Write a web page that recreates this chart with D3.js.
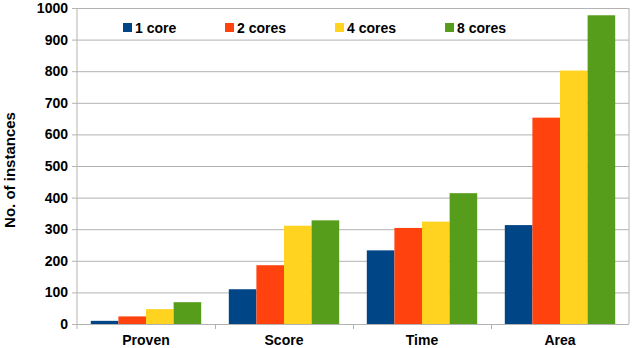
<!DOCTYPE html>
<html>
<head>
<meta charset="utf-8">
<script src="https://cdn.jsdelivr.net/npm/d3@7"></script>
<style>
  body { margin: 0; background: #fff; }
  text { font-family: "Liberation Sans", Arial, sans-serif; font-weight: bold; fill: #000; }
</style>
</head>
<body>
<div id="chart"></div>
<script>
// data
var categories = ["Proven", "Score", "Time", "Area"];
var seriesNames = ["1 core", "2 cores", "4 cores", "8 cores"];
var colors = ["#004586", "#ff420e", "#ffd320", "#579d1c"];
var core1 = [10, 110, 233, 313];
var core2 = [24, 186, 304, 653];
var core4 = [47, 311, 324, 802];
var core8 = [69, 328, 414, 977];
var yTicks = [0, 100, 200, 300, 400, 500, 600, 700, 800, 900, 1000];

var series = [core1, core2, core4, core8];

// SVG attributes
var W = 632, H = 348;
var margin = {left: 77, right: 3, top: 8, bottom: 24};
var width = W - margin.left - margin.right;
var height = H - margin.top - margin.bottom;

var svg = d3.select("#chart").append("svg")
  .attr("width", W)
  .attr("height", H);

var g = svg.append("g")
  .attr("transform", "translate(" + margin.left + "," + margin.top + ")");

var xScale = d3.scaleBand().domain(categories).range([0, width]).paddingInner(0).paddingOuter(0);
var xInner = d3.scaleBand().domain(d3.range(series.length))
  .range([xScale.bandwidth() * 0.1, xScale.bandwidth() * 0.9]);
var yScale = d3.scaleLinear().domain([0, 1000]).range([height, 0]);

// gridlines + left ticks
var yAxis = d3.axisLeft(yScale).tickValues(yTicks).tickFormat(d3.format("d")).tickSize(-width);
var ya = g.append("g").call(yAxis);
ya.select(".domain").remove();
ya.selectAll(".tick line").attr("stroke", "#b3b3b3").attr("x1", -5);
ya.selectAll(".tick text").style("font-size", "14px").attr("x", -9);

// left axis line and right frame
g.append("line").attr("x1", 0).attr("x2", 0).attr("y1", 0).attr("y2", height + 5)
  .attr("stroke", "#b3b3b3");
g.append("line").attr("x1", width).attr("x2", width).attr("y1", 0).attr("y2", height)
  .attr("stroke", "#b3b3b3");

// category separators below axis
g.selectAll(".sep")
  .data(categories.slice(1))
  .enter().append("line")
  .attr("x1", function(d) { return Math.round(xScale(d)) + 0.5; })
  .attr("x2", function(d) { return Math.round(xScale(d)) + 0.5; })
  .attr("y1", height)
  .attr("y2", height + 5)
  .attr("stroke", "#b3b3b3");

// bars
var groups = g.selectAll(".cat")
  .data(categories)
  .enter().append("g")
  .attr("transform", function(d) { return "translate(" + xScale(d) + ",0)"; });

groups.selectAll("rect")
  .data(function(d, i) { return series.map(function(s, j) { return {k: j, v: s[i]}; }); })
  .enter().append("rect")
  .attr("x", function(d) { return xInner(d.k); })
  .attr("width", xInner.bandwidth())
  .attr("y", function(d) { return yScale(d.v); })
  .attr("height", function(d) { return height - yScale(d.v); })
  .attr("fill", function(d) { return colors[d.k]; });

// category labels
g.selectAll(".catlabel")
  .data(categories)
  .enter().append("text")
  .attr("x", function(d) { return xScale(d) + xScale.bandwidth() / 2; })
  .attr("y", height + 21)
  .attr("text-anchor", "middle")
  .style("font-size", "14px")
  .text(function(d) { return d; });

// y title
svg.append("text")
  .attr("transform", "translate(15," + 170 + ") rotate(-90)")
  .attr("text-anchor", "middle")
  .style("font-size", "15px")
  .text("No. of instances");

// legend
var legendX = [123, 225, 335, 445];
var legend = svg.selectAll(".legend")
  .data(seriesNames)
  .enter().append("g")
  .attr("transform", function(d, i) { return "translate(" + legendX[i] + ",23)"; });
legend.append("rect").attr("width", 9).attr("height", 9).attr("fill", function(d, i) { return colors[i]; });
legend.append("text").attr("x", 12).attr("y", 10).style("font-size", "14px").text(function(d) { return d; });
</script>
</body>
</html>
